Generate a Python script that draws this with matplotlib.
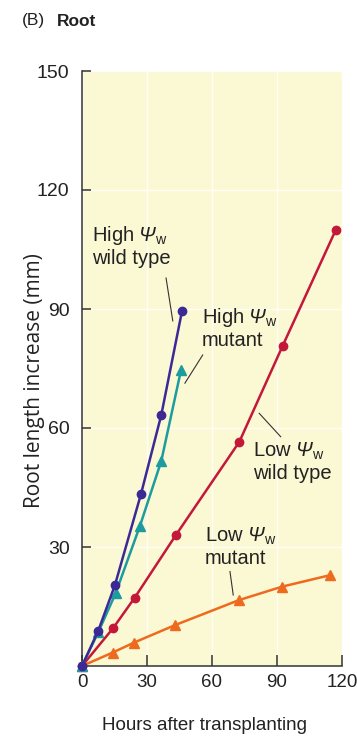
import numpy as np
import matplotlib
matplotlib.use("Agg")
import matplotlib.pyplot as plt

# Data
hi_wt_x = [0, 7.5, 15.2, 27.2, 36.6, 46.2]
hi_wt_y = [0, 8.9, 20.4, 43.3, 63.3, 89.6]

hi_mut_x = [0, 7.5, 15.5, 26.8, 36.6, 45.7]
hi_mut_y = [0, 8.5, 18.3, 35.4, 51.7, 74.6]

lo_wt_x = [0, 14.3, 24.3, 43.2, 72.6, 92.6, 117.1]
lo_wt_y = [0, 9.5, 17.2, 32.9, 56.5, 80.7, 109.9]

lo_mut_x = [0, 14.2, 24.0, 42.9, 72.4, 92.3, 114.5]
lo_mut_y = [0, 3.4, 5.9, 10.3, 16.6, 20.0, 22.9]

xticks = [0, 30, 60, 90, 120]
yticks = [30, 60, 90, 120, 150]

# Fonts
plt.rcParams['font.family'] = ['Liberation Sans', 'DejaVu Sans']
plt.rcParams['mathtext.fontset'] = 'custom'
plt.rcParams['mathtext.rm'] = 'Liberation Sans:italic'
plt.rcParams['mathtext.sf'] = 'Liberation Sans'

fig = plt.figure(figsize=(3.57, 7.38), dpi=100)
ax = fig.add_axes([82/357, 1 - 666/738, 260/357, 595/738])
ax.set_facecolor('#fbf8d4')

ax.set_xlim(0, 120)
ax.set_ylim(0, 150)
ax.set_xticks(xticks)
ax.set_yticks(yticks)
ax.set_xticklabels([str(t) for t in xticks], fontsize=13.5)
ax.set_yticklabels([str(t) for t in yticks], fontsize=14)
ax.tick_params(axis='x', direction='in', length=8, width=1.1, pad=6, color='#333333',
               labelcolor='#222222')
ax.tick_params(axis='y', direction='in', length=6.5, width=1.1, pad=9, color='#333333',
               labelcolor='#222222')

# faint white grid
ax.grid(True, color='white', linewidth=1.0, alpha=0.8)
ax.set_axisbelow(True)

for s in ['top', 'right']:
    ax.spines[s].set_visible(False)
for s in ['left', 'bottom']:
    ax.spines[s].set_color('#333333')
    ax.spines[s].set_linewidth(1.1)

# series
ax.plot(lo_mut_x, lo_mut_y, color='#ee6a1f', lw=1.8, marker='^', ms=6.5, clip_on=False, zorder=3)
ax.plot(lo_wt_x, lo_wt_y, color='#c4183a', lw=1.8, marker='o', ms=6, clip_on=False, zorder=3)
ax.plot(hi_mut_x, hi_mut_y, color='#1c9c9f', lw=1.8, marker='^', ms=6.5, clip_on=False, zorder=4)
ax.plot(hi_wt_x, hi_wt_y, color='#3b2a96', lw=1.8, marker='o', ms=6, clip_on=False, zorder=5)

# labels with leader lines
psi = r' $\Psi_{\mathsf{w}}$'
lab_kw = dict(fontsize=14.5, va='top', ha='left', color='#222222', linespacing=1.1)
ax.text(4.6, 111.4, 'High' + psi + '\nwild type', **lab_kw)
ax.plot([38.8, 41.9], [97.8, 87.0], color='#333333', lw=0.8)

ax.text(55.2, 90.7, 'High' + psi + '\nmutant', **lab_kw)
ax.plot([55.7, 47.5], [78.4, 71.3], color='#333333', lw=0.8)

ax.text(78.9, 56.7, 'Low' + psi + '\nwild type', **lab_kw)
ax.plot([81.8, 91.7], [63.7, 57.8], color='#333333', lw=0.8)

ax.text(56.8, 35.3, 'Low' + psi + '\nmutant', **lab_kw)
ax.plot([68.3, 69.8], [23.8, 17.9], color='#333333', lw=0.8)

# axis titles
fig.text(204/357, 1 - 726/738, 'Hours after transplanting',
         fontsize=13.5, ha='center', va='center', color='#222222')
fig.text(35/357, 1 - 381/738, 'Root length increase (mm)', family='Open Sans',
         fontsize=15, rotation=90, ha='center', va='center', color='#222222')

# panel title
fig.text(22/357, 1 - 21/738, '(B)', fontsize=12.5, ha='left', va='center', color='#222222')
fig.text(57/357, 1 - 21/738, 'Root', fontsize=12.5, fontweight='bold', ha='left', va='center',
         color='#222222')

fig.savefig('out.png', dpi=100)
